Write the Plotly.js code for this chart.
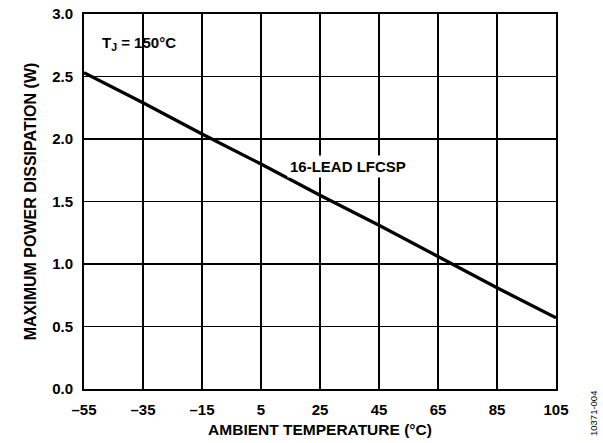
<!DOCTYPE html>
<html>
<head>
<meta charset="utf-8">
<script src="https://cdn.plot.ly/plotly-3.0.1.min.js"></script>
<style>html,body{margin:0;padding:0;background:#fff;}#chart{width:603px;height:443px;}</style>
</head>
<body>
<div id="chart"></div>
<script>
const ambientTemp = [-55, -35, -15, 5, 25, 45, 65, 85, 105];
const powerLFCSP = [2.53, 2.29, 2.04, 1.80, 1.55, 1.31, 1.06, 0.81, 0.57];
const xTickVals = [-55, -35, -15, 5, 25, 45, 65, 85, 105];
const xTickText = ['\u201355', '\u201335', '\u201315', '5', '25', '45', '65', '85', '105'];
const yTickVals = [0, 0.5, 1.0, 1.5, 2.0, 2.5, 3.0];
const yTickText = ['0.0', '0.5', '1.0', '1.5', '2.0', '2.5', '3.0'];

const FONT = 'Liberation Sans, Arial, sans-serif';

const trace = {
  x: ambientTemp, y: powerLFCSP, type: 'scatter', mode: 'lines',
  line: {color: '#000', width: 3.2}, showlegend: false, hoverinfo: 'skip'
};

const layout = {
  width: 603, height: 443,
  margin: {l: 84, r: 47, t: 14, b: 54},
  paper_bgcolor: '#fff', plot_bgcolor: '#fff',
  font: {family: FONT, size: 15, color: '#000'},
  xaxis: {
    range: [-55, 105], tickvals: xTickVals, ticktext: xTickText,
    showgrid: true, gridcolor: '#000', gridwidth: 1.2,
    showline: true, linecolor: '#000', linewidth: 2, mirror: true,
    zeroline: false, ticks: '', ticklabelstandoff: 6,
    tickfont: {family: FONT, size: 15, color: '#000', weight: 'bold'},
    title: {text: '<b>AMBIENT TEMPERATURE (°C)</b>', font: {family: FONT, size: 15.5, color: '#000'}, standoff: 7}
  },
  yaxis: {
    range: [0, 3.0], tickvals: yTickVals, ticktext: yTickText,
    showgrid: true, gridcolor: '#000', gridwidth: 1.2,
    showline: true, linecolor: '#000', linewidth: 2, mirror: true,
    zeroline: false, ticks: '', ticklabelstandoff: 6,
    tickfont: {family: FONT, size: 15, color: '#000', weight: 'bold'},
    title: {text: '<b>MAXIMUM POWER DISSIPATION (W)</b>', font: {family: FONT, size: 16, color: '#000'}, standoff: 12}
  },
  annotations: [
    {xref: 'paper', yref: 'paper', x: 0.034, y: 0.92, xanchor: 'left', yanchor: 'middle',
     text: '<b>T<sub>J</sub> = 150°C</b>', showarrow: false,
     font: {family: FONT, size: 15, color: '#000'}},
    {xref: 'x', yref: 'y', x: 34.5, y: 1.78, xanchor: 'center', yanchor: 'middle',
     text: '<b>16-LEAD LFCSP</b>', showarrow: false, bgcolor: '#fff', borderpad: 2,
     font: {family: FONT, size: 15, color: '#000'}},
    {xref: 'paper', yref: 'paper', x: 1, xshift: 37, y: 0, yshift: -25, xanchor: 'center', yanchor: 'middle',
     text: '10371-004', textangle: -90, showarrow: false,
     font: {family: FONT, size: 9.5, color: '#000'}}
  ]
};

Plotly.newPlot('chart', [trace], layout, {staticPlot: true, displayModeBar: false});
</script>
</body>
</html>
